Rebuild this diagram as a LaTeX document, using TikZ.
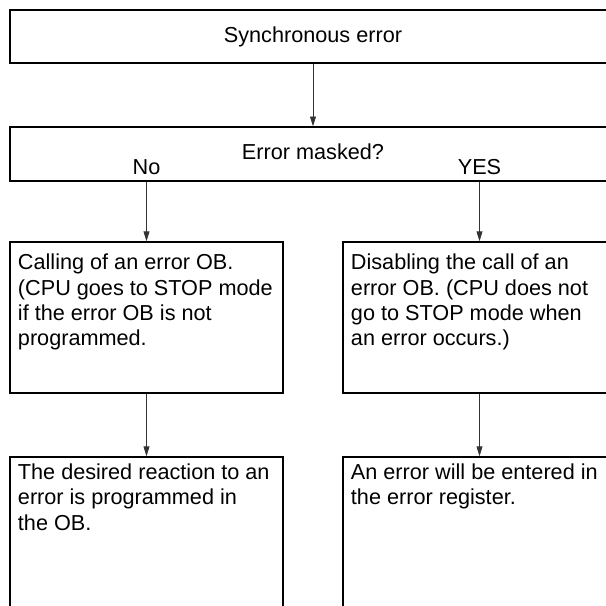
\documentclass[tikz,border=0pt]{standalone}
\usepackage{fontspec}
\setmainfont{Liberation Sans}
\usetikzlibrary{arrows.meta}
\newcommand{\flowfont}{\fontsize{15.4}{17.9}\selectfont}
\newcommand{\boxtext}[2]{\parbox[t][#1][t]{6.425cm}{\raggedright\strut #2}}
\begin{document}
\begin{tikzpicture}[x=0.025cm,y=-0.025cm,font=\flowfont,
  wide/.style={draw,line width=.9pt,minimum width=15.15cm,minimum height=1.325cm,inner sep=0pt},
  midbox/.style={draw,line width=.9pt,minimum width=6.825cm,inner xsep=.2cm,inner ysep=.26cm},
  lowbox/.style={draw,line width=.9pt,minimum width=6.825cm,inner xsep=.2cm,inner ysep=.13cm},
  lbl/.style={anchor=base,inner sep=0pt},
  arr/.style={-{Triangle[length=7pt,width=4.2pt]},line width=.6pt,black!80}]
  \useasboundingbox (0,0) rectangle (606,606);
  \clip (0,0) rectangle (606,606);
  \node[wide] (sync) at (313,36.5) {Synchronous error};
  \node[wide,minimum height=1.35cm,text depth=4pt] (mask) at (313,154) {Error masked?};
  \node[lbl] (no) at (146.5,174) {No};
  \node[lbl] (yes) at (479.5,174) {YES};
  \node[midbox] (call) at (146.5,317.5) {\boxtext{3.26cm}{Calling of an error OB.\\
    (CPU goes to STOP mode\\ if the error OB is not\\ programmed.}};
  \node[midbox] (disable) at (479.5,317.5) {\boxtext{3.26cm}{Disabling the call of an\\
    error OB. (CPU does not\\ go to STOP mode when\\ an error occurs.)}};
  \node[lowbox] (react) at (146.5,542) {\boxtext{3.995cm}{The desired reaction to an\\
    error is programmed in\\ the OB.}};
  \node[lowbox] (enter) at (479.5,542) {\boxtext{3.995cm}{An error will be entered in\\
    the error register.}};
  \draw[arr] (sync) -- (mask);
  \draw[arr] (call.north |- mask.south) -- (call);
  \draw[arr] (disable.north |- mask.south) -- (disable);
  \draw[arr] (call) -- (react);
  \draw[arr] (disable) -- (enter);
\end{tikzpicture}
\end{document}
